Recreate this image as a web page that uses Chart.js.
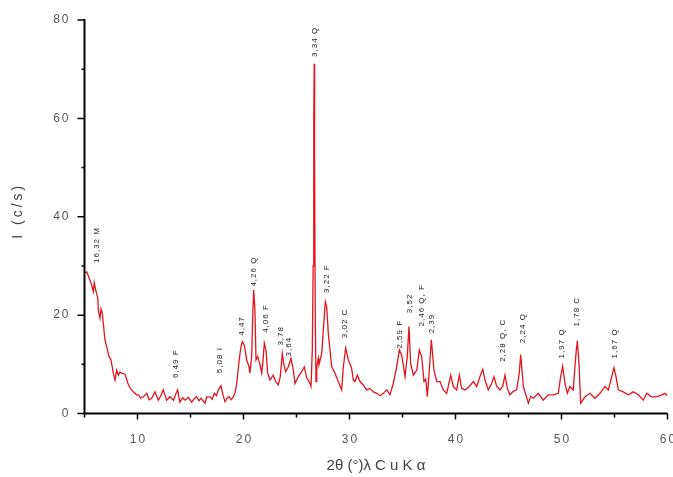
<!DOCTYPE html>
<html>
<head>
<meta charset="utf-8">
<script src="https://cdn.jsdelivr.net/npm/chart.js@4.4.1/dist/chart.umd.min.js"></script>
<style>
  html, body { margin: 0; padding: 0; background: #fff; }
  canvas { display: block; }
</style>
</head>
<body>
<canvas id="xrd" width="673" height="477"></canvas>
<script>
// 2-theta positions (deg) and intensities (c/s)
const twoTheta = [
  5.00, 5.21, 5.45, 5.68, 5.83, 5.92, 6.06, 6.25, 6.30, 6.46, 6.56, 6.68, 6.77, 6.93, 7.09, 7.31, 7.50, 7.72, 7.88, 8.04,
  8.19, 8.35, 8.51, 8.82, 9.08, 9.29, 9.60, 9.92, 10.10, 10.30, 10.55, 10.87, 11.10, 11.34, 11.65, 11.96, 12.20, 12.43, 12.75, 13.07,
  13.40, 13.62, 13.79, 14.00, 14.25, 14.48, 14.80, 15.10, 15.35, 15.58, 15.80, 16.00, 16.20, 16.37, 16.53, 16.84, 17.05, 17.25, 17.45, 17.62,
  17.88, 18.05, 18.25, 18.45, 18.63, 18.85, 19.04, 19.20, 19.36, 19.52, 19.67, 19.80, 19.89, 20.08, 20.30, 20.52, 20.61, 20.77, 20.87, 20.96,
  21.08, 21.18, 21.34, 21.56, 21.72, 21.85, 21.96, 22.12, 22.28, 22.50, 22.81, 23.04, 23.28, 23.47, 23.66, 23.79, 23.98, 24.23, 24.48, 24.70,
  24.86, 25.17, 25.49, 25.74, 25.96, 26.20, 26.37, 26.49, 26.57, 26.63, 26.67, 26.71, 26.76, 26.84, 26.91, 27.06, 27.12, 27.25, 27.38, 27.53,
  27.72, 27.85, 28.00, 28.16, 28.32, 28.63, 28.94, 29.26, 29.42, 29.64, 29.89, 30.20, 30.36, 30.52, 30.74, 30.99, 31.30, 31.62, 31.93, 32.25,
  32.57, 32.88, 33.19, 33.51, 33.82, 34.13, 34.45, 34.70, 34.92, 35.24, 35.45, 35.61, 35.77, 36.02, 36.34, 36.59, 36.81, 37.03, 37.20, 37.34,
  37.53, 37.72, 37.97, 38.23, 38.54, 38.85, 39.17, 39.55, 39.79, 40.11, 40.36, 40.58, 40.90, 41.30, 41.68, 42.00, 42.31, 42.57, 42.78, 43.09,
  43.41, 43.63, 43.89, 44.20, 44.45, 44.67, 44.89, 45.14, 45.45, 45.77, 46.02, 46.15, 46.40, 46.87, 47.10, 47.34, 47.81, 48.28, 48.75, 49.23,
  49.70, 49.92, 50.11, 50.33, 50.55, 50.80, 51.11, 51.34, 51.49, 51.65, 51.81, 52.22, 52.69, 53.16, 53.63, 54.10, 54.42, 54.74, 54.95, 55.14,
  55.36, 55.83, 56.30, 56.77, 57.25, 57.72, 58.04, 58.50, 58.98, 59.45, 59.76, 60.00
];
const intensity = [
  28.6, 28.8, 27.5, 26.1, 24.8, 26.6, 25.1, 23.5, 21.0, 19.4, 21.3, 20.4, 18.4, 15.0, 13.6, 11.6, 10.9, 8.2, 6.8, 8.8,
  7.8, 8.4, 8.2, 8.0, 6.2, 5.2, 4.4, 3.8, 3.8, 3.1, 3.4, 4.1, 2.8, 3.1, 4.4, 2.7, 3.6, 4.8, 2.7, 3.4,
  2.7, 4.0, 4.8, 2.3, 3.2, 2.7, 3.3, 2.3, 3.0, 3.4, 2.6, 3.1, 2.5, 2.1, 3.4, 3.4, 2.9, 4.1, 3.6, 4.8,
  5.6, 3.9, 2.4, 3.1, 3.4, 2.8, 3.4, 4.2, 6.1, 9.5, 12.2, 14.0, 14.6, 13.9, 10.9, 9.5, 8.2, 11.6, 19.7, 25.1,
  21.0, 10.9, 11.6, 9.9, 8.2, 11.0, 14.3, 12.9, 8.2, 6.8, 7.8, 6.5, 5.8, 7.5, 12.2, 10.2, 8.5, 9.5, 11.2, 8.8,
  6.1, 7.5, 8.5, 9.5, 7.2, 6.5, 5.5, 12.9, 30.0, 60.0, 71.1, 52.0, 22.0, 6.5, 9.5, 11.2, 9.9, 11.0, 12.2, 17.0,
  22.7, 21.7, 16.3, 12.9, 9.5, 8.2, 6.5, 4.8, 9.5, 13.3, 10.9, 9.2, 6.8, 6.5, 7.8, 6.5, 5.8, 4.8, 5.1, 4.4,
  4.1, 3.6, 4.1, 4.8, 3.8, 6.1, 9.5, 12.9, 11.9, 7.5, 11.6, 17.7, 10.2, 7.8, 8.8, 12.9, 11.6, 6.5, 7.0, 3.4,
  8.8, 15.0, 8.8, 6.5, 6.5, 4.8, 4.1, 7.8, 5.5, 4.8, 7.8, 5.1, 4.8, 5.5, 6.5, 5.5, 7.5, 9.0, 6.8, 4.8,
  6.1, 7.5, 5.5, 4.8, 5.5, 7.8, 5.1, 3.8, 4.5, 4.8, 8.2, 12.0, 5.5, 2.1, 3.5, 3.1, 4.1, 2.7, 3.8, 3.8,
  4.1, 7.5, 9.6, 6.1, 4.1, 5.5, 4.8, 11.6, 14.8, 10.2, 2.1, 3.4, 4.1, 3.1, 4.1, 5.5, 4.8, 7.5, 9.3, 7.5,
  4.8, 4.4, 3.8, 4.4, 3.8, 2.7, 4.1, 3.4, 3.4, 3.8, 4.1, 3.6
];

// peak annotations: d-spacing + phase, 2-theta, intensity where the label starts
const peakLabels = ['16,32 M', '6,49 F', '5,08 I', '4,47', '4,26 Q', '4,06 F', '3,78', '3,64', '3,34 Q', '3,22 F',
  '3,02 C', '2,59 F', '3,52', '2,46 Q, F', '2,39', '2,28 Q, C', '2,24 Q', '1,97 Q', '1,78 C', '1,67 Q'];
const peakAngles = [6.15, 13.6, 17.78, 19.83, 20.93, 22.12, 23.54, 24.23, 26.68, 27.85,
  29.58, 34.76, 35.71, 36.81, 37.75, 44.5, 46.34, 50.02, 51.49, 55.05];
const peakLabelBase = [30.6, 7.2, 8.2, 15.8, 25.8, 16.4, 13.8, 11.6, 72.5, 24.5,
  15.3, 13.2, 20.4, 17.7, 16.3, 10.5, 14.3, 11.2, 17.7, 11.2];

const xTicks = [10, 20, 30, 40, 50, 60];
const xMinorTicks = [5, 15, 25, 35, 45, 55];
const yTicks = [0, 20, 40, 60, 80];
const yMinorTicks = [10, 30, 50, 70];
const xTitle = '2θ (°)λ C u K α';
const yTitle = 'I (c/s)';

const FONT = '"Liberation Sans", Arial, sans-serif';

// axes, tick marks, labels and peak annotations
const decorPlugin = {
    id: 'decor',
    afterDatasetsDraw(chart) {
        const { ctx, chartArea: a, scales: { x, y } } = chart;
        ctx.save();

        // axis lines
        ctx.strokeStyle = '#000';
        ctx.lineWidth = 2;
        ctx.beginPath();
        ctx.moveTo(a.left, a.top - 1);
        ctx.lineTo(a.left, a.bottom);
        ctx.lineTo(a.right, a.bottom);
        ctx.stroke();

        // tick marks
        ctx.lineWidth = 1.5;
        ctx.beginPath();
        yTicks.forEach(v => { const p = y.getPixelForValue(v); ctx.moveTo(a.left - 7, p); ctx.lineTo(a.left, p); });
        yMinorTicks.forEach(v => { const p = y.getPixelForValue(v); ctx.moveTo(a.left - 3, p); ctx.lineTo(a.left, p); });
        xTicks.forEach(v => { const p = x.getPixelForValue(v); ctx.moveTo(p, a.bottom); ctx.lineTo(p, a.bottom + 6); });
        xMinorTicks.forEach(v => { const p = x.getPixelForValue(v); ctx.moveTo(p, a.bottom); ctx.lineTo(p, a.bottom + 4); });
        ctx.stroke();

        // tick labels
        ctx.fillStyle = '#555';
        ctx.font = '12px ' + FONT;
        ctx.letterSpacing = '2px';
        ctx.textBaseline = 'middle';
        ctx.textAlign = 'right';
        yTicks.forEach(v => ctx.fillText(String(v), a.left - 14, y.getPixelForValue(v)));
        ctx.textAlign = 'center';
        xTicks.forEach(v => ctx.fillText(String(v), x.getPixelForValue(v) + 1, a.bottom + 26));

        // axis titles
        ctx.fillStyle = '#444';
        ctx.font = '15px ' + FONT;
        ctx.letterSpacing = '0px';
        ctx.fillText(xTitle, (a.left + a.right) / 2, a.bottom + 52);
        ctx.save();
        ctx.translate(18, (a.top + a.bottom) / 2 - 6);
        ctx.rotate(-Math.PI / 2);
        ctx.font = '14px ' + FONT;
        ctx.letterSpacing = '3px';
        ctx.fillText(yTitle, 0, 0);
        ctx.restore();

        // peak labels, written upwards
        ctx.fillStyle = '#222';
        ctx.font = '8px ' + FONT;
        ctx.letterSpacing = '1px';
        ctx.textAlign = 'left';
        peakLabels.forEach((txt, i) => {
            ctx.save();
            ctx.translate(x.getPixelForValue(peakAngles[i]), y.getPixelForValue(peakLabelBase[i]));
            ctx.rotate(-Math.PI / 2);
            ctx.fillText(txt, 0, 0);
            ctx.restore();
        });

        ctx.restore();
    }
};

new Chart(document.getElementById('xrd'), {
    type: 'line',
    data: {
        datasets: [{
            data: twoTheta.map((t, i) => ({ x: t, y: intensity[i] })),
            borderColor: '#e3141c',
            borderWidth: 1.3,
            pointRadius: 0,
            tension: 0,
            fill: false
        }]
    },
    options: {
        responsive: false,
        animation: false,
        devicePixelRatio: 1,
        layout: { padding: { top: 20, right: 5.5, bottom: 0, left: 0 } },
        plugins: { legend: { display: false }, tooltip: { enabled: false } },
        scales: {
            x: {
                type: 'linear', min: 5, max: 60,
                grid: { display: false }, border: { display: false },
                ticks: { display: false },
                afterFit: s => { s.height = 63.5; }
            },
            y: {
                min: 0, max: 80,
                grid: { display: false }, border: { display: false },
                ticks: { display: false },
                afterFit: s => { s.width = 84.5; }
            }
        }
    },
    plugins: [decorPlugin]
});
</script>
</body>
</html>
